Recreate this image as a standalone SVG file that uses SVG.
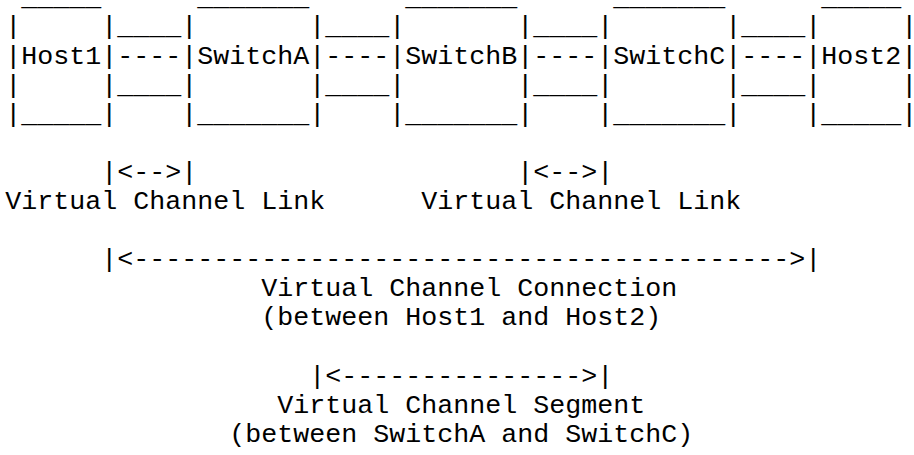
<svg xmlns="http://www.w3.org/2000/svg" width="914" height="455" viewBox="0 0 914 455">
<style>
.t { font-family: "Liberation Mono", "Courier New", monospace; font-size: 26.67px; fill: #000; }
</style>
<rect x="0" y="0" width="914" height="455" fill="#fff"/>
<g id="node-host1" class="t">
<text x="21.3" y="5.3">_____</text>
<text x="5.3" y="34.4">|&#160;&#160;&#160;&#160;&#160;|</text>
<text x="5.3" y="63.5">|Host1|</text>
<text x="5.3" y="92.6">|&#160;&#160;&#160;&#160;&#160;|</text>
<text x="5.3" y="121.7">|_____|</text>
</g>
<g id="node-switchA" class="t">
<text x="197.3" y="5.3">_______</text>
<text x="181.3" y="34.4">|&#160;&#160;&#160;&#160;&#160;&#160;&#160;|</text>
<text x="181.3" y="63.5">|SwitchA|</text>
<text x="181.3" y="92.6">|&#160;&#160;&#160;&#160;&#160;&#160;&#160;|</text>
<text x="181.3" y="121.7">|_______|</text>
</g>
<g id="node-switchB" class="t">
<text x="405.3" y="5.3">_______</text>
<text x="389.3" y="34.4">|&#160;&#160;&#160;&#160;&#160;&#160;&#160;|</text>
<text x="389.3" y="63.5">|SwitchB|</text>
<text x="389.3" y="92.6">|&#160;&#160;&#160;&#160;&#160;&#160;&#160;|</text>
<text x="389.3" y="121.7">|_______|</text>
</g>
<g id="node-switchC" class="t">
<text x="613.3" y="5.3">_______</text>
<text x="597.3" y="34.4">|&#160;&#160;&#160;&#160;&#160;&#160;&#160;|</text>
<text x="597.3" y="63.5">|SwitchC|</text>
<text x="597.3" y="92.6">|&#160;&#160;&#160;&#160;&#160;&#160;&#160;|</text>
<text x="597.3" y="121.7">|_______|</text>
</g>
<g id="node-host2" class="t">
<text x="821.3" y="5.3">_____</text>
<text x="805.3" y="34.4">|&#160;&#160;&#160;&#160;&#160;|</text>
<text x="805.3" y="63.5">|Host2|</text>
<text x="805.3" y="92.6">|&#160;&#160;&#160;&#160;&#160;|</text>
<text x="805.3" y="121.7">|_____|</text>
</g>
<g id="connectors" class="t">
<g id="link-host1-switchA">
<text x="117.3" y="34.4">____</text>
<text x="117.3" y="63.5">----</text>
<text x="117.3" y="92.6">____</text>
</g>
<g id="link-switchA-switchB">
<text x="325.3" y="34.4">____</text>
<text x="325.3" y="63.5">----</text>
<text x="325.3" y="92.6">____</text>
</g>
<g id="link-switchB-switchC">
<text x="533.3" y="34.4">____</text>
<text x="533.3" y="63.5">----</text>
<text x="533.3" y="92.6">____</text>
</g>
<g id="link-switchC-host2">
<text x="741.3" y="34.4">____</text>
<text x="741.3" y="63.5">----</text>
<text x="741.3" y="92.6">____</text>
</g>
</g>
<g id="annotations" class="t">
<text x="101.3" y="179.9">|&lt;--&gt;|</text>
<text x="517.3" y="179.9">|&lt;--&gt;|</text>
<text x="5.3" y="209">Virtual Channel Link</text>
<text x="421.3" y="209">Virtual Channel Link</text>
<text x="101.3" y="267.2">|&lt;-----------------------------------------&gt;|</text>
<text x="261.3" y="296.3">Virtual Channel Connection</text>
<text x="261.3" y="325.4">(between Host1 and Host2)</text>
<text x="309.3" y="383.6">|&lt;---------------&gt;|</text>
<text x="277.3" y="412.7">Virtual Channel Segment</text>
<text x="229.3" y="441.8">(between SwitchA and SwitchC)</text>
</g>
</svg>
